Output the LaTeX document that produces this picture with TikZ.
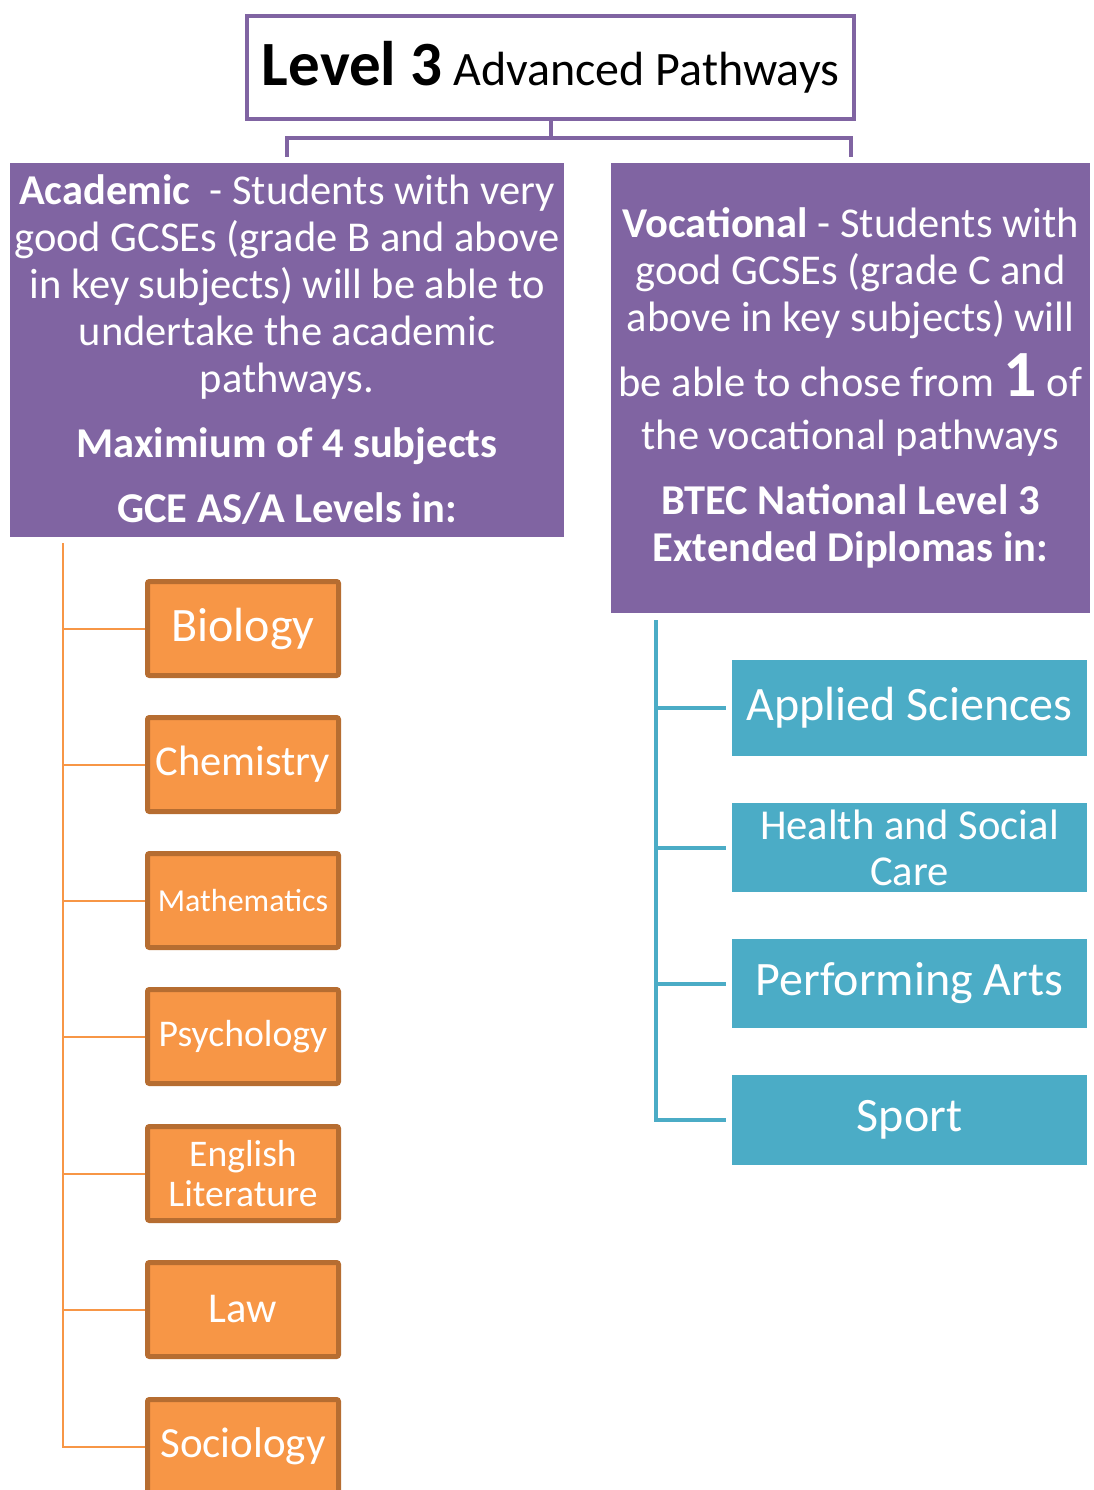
\documentclass[tikz,border=0pt]{standalone}
\usepackage{fontspec}
\setmainfont{Carlito}
\definecolor{pathpurple}{HTML}{8064A2}
\definecolor{subjorange}{HTML}{F79646}
\definecolor{subjedge}{HTML}{B66D31}
\definecolor{diplteal}{HTML}{4BACC6}
\tikzset{
  titlebox/.style={draw=pathpurple, line width=4pt, fill=white, minimum width=607pt, minimum height=103pt, inner sep=0pt},
  pathbox/.style={fill=pathpurple, text=white, align=center, inner sep=0pt, font=\fontsize{42.5}{47}\selectfont},
  subjbox/.style={fill=subjorange, draw=subjedge, line width=5pt, rounded corners=2pt, text=white, minimum width=191pt, minimum height=94pt, align=center, inner sep=0pt},
  diplbox/.style={fill=diplteal, text=white, minimum width=355pt, align=center, inner sep=0pt},
  joinline/.style={draw=pathpurple, line width=4pt},
  subjline/.style={draw=subjorange, line width=2pt},
  diplline/.style={draw=diplteal, line width=4pt}
}
\begin{document}
\begin{tikzpicture}[x=1pt,y=-1pt]
\useasboundingbox (0,0) rectangle (1093,1490);
\node [titlebox, font=\fontsize{48}{52}\selectfont] (title) at (550.5,67.5) {{\fontsize{63}{66}\selectfont\bfseries Level 3} Advanced Pathways};
\node [pathbox, minimum width=554pt, minimum height=374pt] (acad) at (287,350) {\textbf{Academic}~ - Students with very\\
good GCSEs (grade B and above\\
in key subjects) will be able to\\
undertake the academic\\
pathways.\\[18pt]
\textbf{Maximium of 4 subjects}\\[18pt]
\textbf{GCE AS/A Levels in:}};
\node [pathbox, minimum width=479pt, minimum height=450pt] (voc) at (850.5,388) {\textbf{Vocational} - Students with\\
good GCSEs (grade C and\\
above in key subjects) will\\[14pt]
be able to chose from {\fontsize{66}{47}\selectfont\bfseries 1} of\\[6pt]
the vocational pathways\\[18pt]
\textbf{BTEC National Level 3}\\
\textbf{Extended Diplomas in:}};
\draw [joinline] (title.south) -- ++(0,17) -| ([yshift=6pt]acad.north);
\draw [joinline] (title.south) -- ++(0,17) -| ([yshift=6pt]voc.north);
\node [subjbox, font=\fontsize{48}{52}\selectfont] (bio) at (243,628.5) {Biology};
\node [subjbox, font=\fontsize{42.5}{50}\selectfont] (chem) at (243,764.5) {Chemistry};
\node [subjbox, font=\fontsize{32}{36}\selectfont] (math) at (243,900.5) {Mathematics};
\node [subjbox, font=\fontsize{37.7}{42}\selectfont] (psych) at (243,1036.5) {Psychology};
\node [subjbox, font=\fontsize{37.6}{40}\selectfont] (eng) at (243,1173.5) {English\\Literature};
\node [subjbox, font=\fontsize{42.5}{50}\selectfont] (law) at (243,1309.5) {Law};
\node [subjbox, font=\fontsize{43}{50}\selectfont] (soc) at (243,1446.5) {Sociology};
\coordinate (subjtop) at (63,543);
\draw [subjline] (subjtop) |- (soc.west);
\foreach \n in {bio,chem,math,psych,eng,law}
  \draw [subjline] (subjtop |- \n.west) -- (\n.west);
\node [diplbox, minimum height=96pt, font=\fontsize{48}{52}\selectfont] (appl) at (909.5,708) {Applied Sciences};
\node [diplbox, minimum height=89pt, font=\fontsize{42.6}{46}\selectfont] (hsc) at (909.5,847.5) {Health and Social\\Care};
\node [diplbox, minimum height=89pt, font=\fontsize{48}{52}\selectfont] (arts) at (909.5,983.5) {Performing Arts};
\node [diplbox, minimum height=90pt, font=\fontsize{48}{52}\selectfont] (sport) at (909.5,1120) {Sport};
\coordinate (dipltop) at (656,620);
\draw [diplline] (dipltop) |- ([xshift=-6pt]sport.west);
\foreach \n in {appl,hsc,arts}
  \draw [diplline] (dipltop |- \n.west) -- ([xshift=-6pt]\n.west);
\end{tikzpicture}
\end{document}
